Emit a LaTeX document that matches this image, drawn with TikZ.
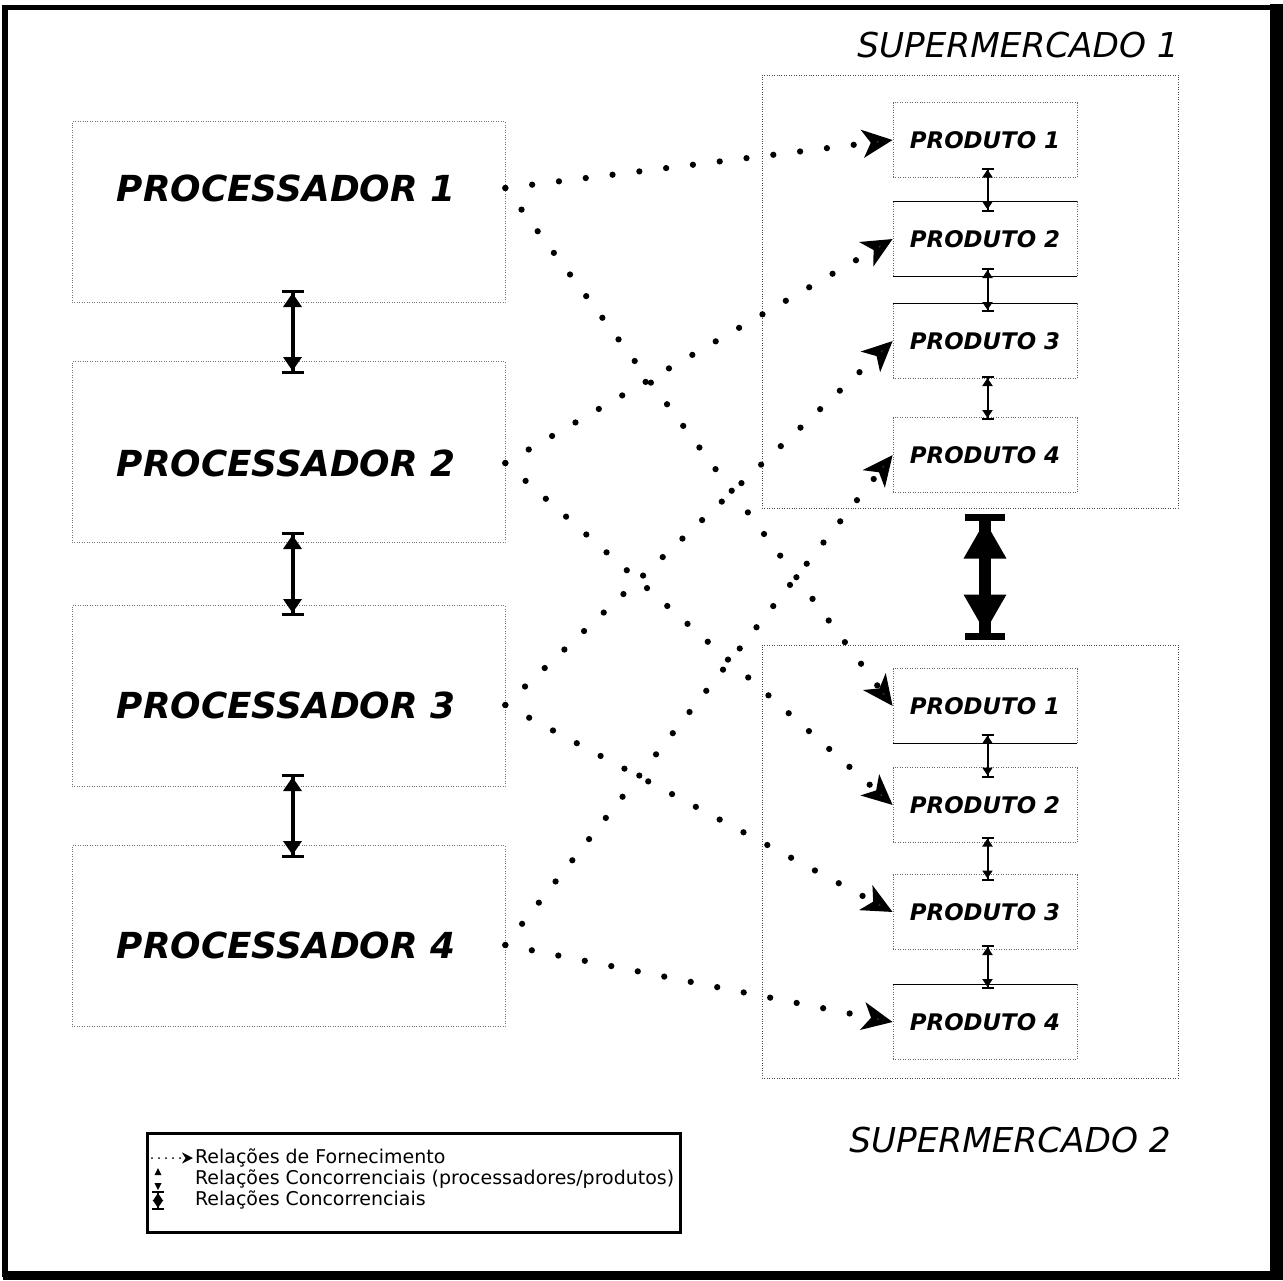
\documentclass[tikz,border=0pt]{standalone}
\usepackage{fontspec}
\setmainfont{DejaVu Sans}
\usetikzlibrary{calc,arrows.meta,positioning}

\tikzset{
  procbox/.style={draw=black!55, densely dotted, thin, minimum width=86.6mm, minimum height=36.2mm},
  proctext/.style={font=\fontsize{20.4}{24}\selectfont\bfseries\itshape},
  supbox/.style={draw=black!70, densely dotted, thin, minimum width=83.2mm, minimum height=86.6mm},
  suplabel/.style={font=\fontsize{19.5}{23}\selectfont\itshape},
  prodbox/.style={draw=black!60, densely dotted, thin, minimum width=36.8mm, minimum height=15mm,
    font=\fontsize{13}{15}\selectfont\bfseries\itshape},
  prodline/.style={black, semithick},
  supply/.style={line width=1.25mm, line cap=round, dash pattern=on 0pt off 5.4mm,
    -{Stealth[length=6mm, width=5.5mm, inset=1.6mm, fill=black!80]}},
  procconc/.style={line width=0.8mm,
    {Bar[width=4.4mm, line width=0.6mm]Triangle[length=2.8mm, width=3.6mm, sep=0pt]}-{Triangle[length=2.8mm, width=3.6mm, sep=0pt]Bar[width=4.4mm, line width=0.6mm]}},
  prodconc/.style={line width=0.4mm,
    {Bar[width=2.4mm, line width=0.4mm]Triangle[length=1.6mm, width=2mm, sep=0pt]}-{Triangle[length=1.6mm, width=2mm, sep=0pt]Bar[width=2.4mm, line width=0.4mm]}},
  supconc/.style={line width=2.4mm,
    {Bar[width=8mm, line width=1.4mm]Triangle[length=7.6mm, width=8mm, sep=0pt]}-{Triangle[length=7.6mm, width=8mm, sep=0pt]Bar[width=8mm, line width=1.4mm]}},
  legendbox/.style={draw, line width=0.6mm, minimum width=106.4mm, minimum height=19.8mm},
  legendtext/.style={font=\fontsize{10.8}{12}\selectfont, anchor=west, inner sep=1pt},
}

\begin{document}
\begin{tikzpicture}[x=0.2mm, y=-0.2mm]
\useasboundingbox (0,0) rectangle (1283,1280);

% moldura
\draw[line width=1mm] (5,7) rectangle (1274,1274);
\fill (1270,4) rectangle (1283,1280);
\fill (3,1271) rectangle (1283,1280);

% processadores
\foreach \n/\y/\ty in {1/212/188, 2/452/463, 3/696/705, 4/936/945}
{
    \node[procbox] (proc\n) at (288.5,\y) {};
    \node[proctext] (lbl\n) at (286,\ty) {PROCESSADOR \n};
    \coordinate (out\n) at (proc\n.east |- lbl\n);
}

% supermercados
\node[supbox] (sup1) at (970,291.5) {};
\node[supbox] (sup2) at (970,861.5) {};
\node[suplabel] (sup1l) at (1018,45) {SUPERMERCADO 1};
\node[suplabel] (sup2l) at (1010,1140) {SUPERMERCADO 2};

\foreach \s/\n/\y in {1/1/140, 1/2/239, 1/3/341, 1/4/455,
                      2/1/706, 2/2/805, 2/3/912, 2/4/1022}
{
    \node[prodbox] (s\s p\n) at (985,\y) {PRODUTO \n};
}
\foreach \b/\e in {s1p2/north, s1p2/south, s1p3/north, s2p1/south, s2p4/north}
    \draw[prodline] (\b.\e -| \b.west) -- (\b.\e -| \b.east);

% relacoes concorrenciais
\foreach \a/\b in {proc1/proc2, proc2/proc3, proc3/proc4}
    \draw[procconc] ($(\a.south)!.5!(\b.north)+(4,-42)$) -- ++(0,84);
\foreach \a/\b in {s1p1/s1p2, s1p2/s1p3, s1p3/s1p4, s2p1/s2p2, s2p2/s2p3, s2p3/s2p4}
    \draw[prodconc] ($(\a.south)!.5!(\b.north)+(2.5,-22)$) -- ++(0,44);
\draw[supconc] ($(sup1.south)!.5!(sup2.north)+(15,-63)$) -- ++(0,126);

% fornecimento
\foreach \n in {1,...,4}
{
    \draw[supply] (out\n) -- (s1p\n.west);
    \draw[supply] (out\n) -- (s2p\n.west);
}

% legenda
\node[legendbox] (legend) at (414,1182.5) {};
\node[legendtext] (leg1) at (193,1158) {Relações de Fornecimento};
\node[legendtext] (leg2) at (193,1179) {Relações Concorrenciais (processadores/produtos)};
\node[legendtext] (leg3) at (193,1200) {Relações Concorrenciais};
\draw[line width=0.4mm, line cap=round, dash pattern=on 0pt off 1.4mm,
      -{Stealth[length=2.2mm, width=2.2mm]}] (152,1158) -- (leg1.west);
\fill (154.5,1175) -- (161.5,1175) -- (158,1168) -- cycle;
\fill (154.5,1183) -- (161.5,1183) -- (158,1190) -- cycle;
\draw[prodconc] (158,1191) -- (158,1210);

\end{tikzpicture}
\end{document}
